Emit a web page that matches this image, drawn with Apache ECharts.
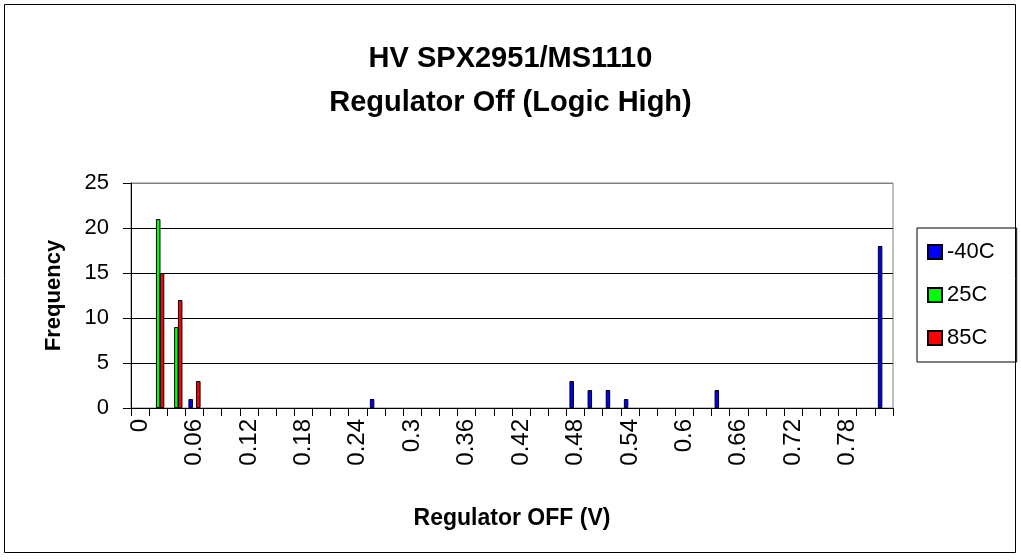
<!DOCTYPE html>
<html>
<head>
<meta charset="utf-8">
<title>HV SPX2951/MS1110 Regulator Off</title>
<script src="https://cdn.jsdelivr.net/npm/echarts@6/dist/echarts.min.js"></script>
<style>
    html, body { margin: 0; padding: 0; background: #fff; }
    #chart { width: 1021px; height: 560px; }
</style>
</head>
<body>
<div id="chart"></div>
<script>
// histogram bins (V), Excel style with a trailing "More" bin
const bins = ['0', '0.02', '0.04', '0.06', '0.08', '0.1', '0.12', '0.14', '0.16', '0.18',
    '0.2', '0.22', '0.24', '0.26', '0.28', '0.3', '0.32', '0.34', '0.36', '0.38',
    '0.4', '0.42', '0.44', '0.46', '0.48', '0.5', '0.52', '0.54', '0.56', '0.58',
    '0.6', '0.62', '0.64', '0.66', '0.68', '0.7', '0.72', '0.74', '0.76', '0.78',
    '0.8', 'More'];

const seriesNames = ['-40C', '25C', '85C'];

const freqM40 = [0, 0, 0, 1, 0, 0, 0, 0, 0, 0,
    0, 0, 0, 1, 0, 0, 0, 0, 0, 0,
    0, 0, 0, 0, 3, 2, 2, 1, 0, 0,
    0, 0, 2, 0, 0, 0, 0, 0, 0, 0,
    0, 18];
const freq25 = [0, 21, 9, 0, 0, 0, 0, 0, 0, 0,
    0, 0, 0, 0, 0, 0, 0, 0, 0, 0,
    0, 0, 0, 0, 0, 0, 0, 0, 0, 0,
    0, 0, 0, 0, 0, 0, 0, 0, 0, 0,
    0, 0];
const freq85 = [0, 15, 12, 3, 0, 0, 0, 0, 0, 0,
    0, 0, 0, 0, 0, 0, 0, 0, 0, 0,
    0, 0, 0, 0, 0, 0, 0, 0, 0, 0,
    0, 0, 0, 0, 0, 0, 0, 0, 0, 0,
    0, 0];

const yTicks = [0, 5, 10, 15, 20, 25];

const font = 'Arial, "Liberation Sans", sans-serif';
const colors = ['#0000ff', '#00ff00', '#ff0000'];

const chart = echarts.init(document.getElementById('chart'));

function barSeries(name, data, color) {
    return {
        name: name,
        type: 'bar',
        // empty bins get no bar (otherwise the border draws a stub on the axis)
        data: data.map(v => (v === 0 ? '-' : v)),
        barWidth: 4.5,
        barGap: '-15%',
        itemStyle: {
            color: color,
            borderColor: '#000',
            borderWidth: 1
        }
    };
}

const option = {
    animation: false,
    backgroundColor: '#fff',
    textStyle: { fontFamily: font, color: '#000' },
    title: {
        text: 'HV SPX2951/MS1110\nRegulator Off (Logic High)',
        left: 'center',
        top: 32,
        textStyle: {
            fontFamily: font,
            fontSize: 29,
            fontWeight: 'bold',
            color: '#000',
            lineHeight: 44
        }
    },
    legend: {
        orient: 'vertical',
        left: 917,
        top: 228,
        padding: [13, 22, 13, 10],
        itemGap: 21,
        itemWidth: 14,
        itemHeight: 14,
        icon: 'rect',
        borderColor: '#000',
        borderWidth: 1,
        data: seriesNames,
        textStyle: { fontFamily: font, fontSize: 22, color: '#000' }
    },
    grid: {
        left: 131,
        right: 128,
        top: 183,
        bottom: 152,
        show: true,
        borderColor: '#808080',
        borderWidth: 1
    },
    xAxis: {
        type: 'category',
        data: bins,
        name: 'Regulator OFF (V)',
        nameLocation: 'middle',
        nameGap: 99,
        nameTextStyle: { fontFamily: font, fontSize: 23, fontWeight: 'bold', color: '#000' },
        axisLine: { lineStyle: { color: '#000', width: 1 } },
        axisTick: { show: true, interval: 0, length: 8, lineStyle: { color: '#000' } },
        axisLabel: {
            interval: 2,
            rotate: 90,
            margin: 11,
            fontFamily: font,
            fontSize: 24,
            color: '#000'
        },
        splitLine: { show: false }
    },
    yAxis: {
        type: 'value',
        min: yTicks[0],
        max: yTicks[yTicks.length - 1],
        interval: 5,
        name: 'Frequency',
        nameLocation: 'middle',
        nameGap: 66,
        nameTextStyle: { fontFamily: font, fontSize: 22, fontWeight: 'bold', color: '#000' },
        axisLine: { show: true, lineStyle: { color: '#000', width: 1 } },
        axisTick: { show: true, length: 8, lineStyle: { color: '#000' } },
        axisLabel: { margin: 22, fontFamily: font, fontSize: 22, color: '#000' },
        splitLine: {
            lineStyle: { color: ['#000', '#000', '#000', '#000', '#000', '#808080'], width: 1 }
        }
    },
    graphic: [{
        type: 'rect',
        shape: { x: 4.5, y: 4.5, width: 1011, height: 548 },
        style: { fill: 'none', stroke: '#000', lineWidth: 1 },
        silent: true
    }],
    series: [
        barSeries(seriesNames[0], freqM40, colors[0]),
        barSeries(seriesNames[1], freq25, colors[1]),
        barSeries(seriesNames[2], freq85, colors[2])
    ]
};

chart.setOption(option);

window.addEventListener('resize', () => {
    chart && chart.resize();
});
</script>
</body>
</html>
